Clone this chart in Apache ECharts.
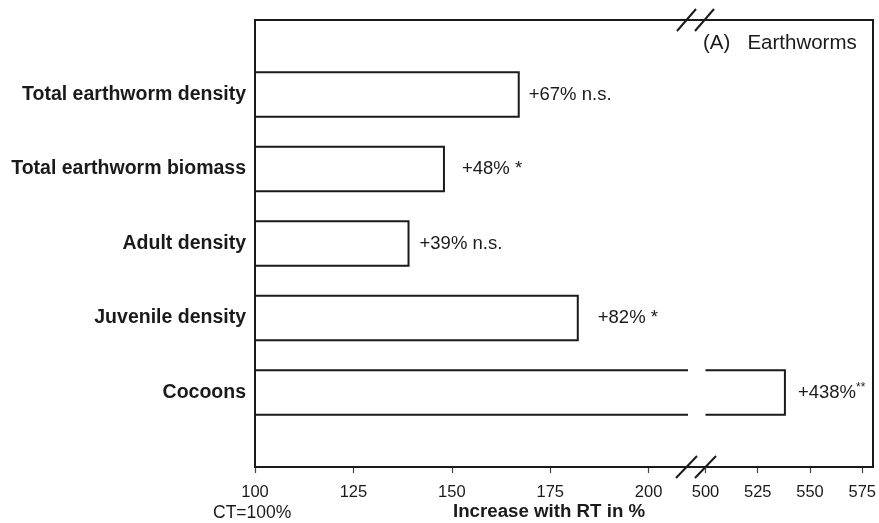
<!DOCTYPE html>
<html>
<head>
<meta charset="utf-8">
<script src="https://cdn.jsdelivr.net/npm/echarts@6/dist/echarts.min.js"></script>
<style>html,body{margin:0;padding:0;background:#fff}#c{width:879px;height:523px}</style>
</head>
<body>
<div id="c"></div>
<script>
// ---- data ----
const categories = ['Total earthworm density', 'Total earthworm biomass', 'Adult density', 'Juvenile density', 'Cocoons'];
const values = [167, 148, 139, 182, 538];          // RT in % of CT (CT = 100%)
const valueLabels = ['+67% n.s.', '+48% *', '+39% n.s.', '+82% *', '+438%{s|**}'];
const leftTicks = [100, 125, 150, 175, 200];
const rightTicks = [500, 525, 550, 575];

// ---- style / layout ----
const labelGap = [10, 18, 11, 20, 13];
const INK = '#1a1a1a';
const FONT = 'Liberation Sans, Arial, Helvetica, sans-serif';
const PLOT = { left: 255, top: 20, right: 873, bottom: 467 };
const LEFT_W = 433, RIGHT_X = 705.5;

const axisCats = [''].concat(categories, ['']);
const seriesData = values.map((v, i) => [v, i + 1, i]);

function renderBar(params, api) {
  const v = api.value(0), c = api.value(1), idx = api.value(2);
  const cs = params.coordSys;
  const xL = cs.x, xR = cs.x + cs.width;
  const pc = api.coord([v, c]);
  const pn = api.coord([v, c + 1]);
  const h = Math.abs(pn[1] - pc[1]) * 0.6;
  const top = pc[1] - h / 2, bot = pc[1] + h / 2;
  const isLeft = params.seriesIndex === 0;
  const children = [];
  const lineStyle = { stroke: INK, lineWidth: 2, fill: null };
  let endX = null;
  if (isLeft) {
    if (pc[0] > xR) {
      children.push({ type: 'polyline', shape: { points: [[xR, top], [xL, top], [xL, bot], [xR, bot]] }, style: lineStyle });
    } else {
      children.push({ type: 'polyline', shape: { points: [[xL, top], [pc[0], top], [pc[0], bot], [xL, bot]] }, style: lineStyle });
      endX = pc[0];
    }
  } else {
    if (pc[0] <= xL) return null;
    children.push({ type: 'polyline', shape: { points: [[xL, top], [pc[0], top], [pc[0], bot], [xL, bot]] }, style: lineStyle });
    endX = pc[0];
  }
  if (endX !== null) {
    children.push({
      type: 'text',
      style: {
        text: valueLabels[idx], x: endX + labelGap[idx], y: pc[1],
        align: 'left', verticalAlign: 'middle',
        font: '18.5px ' + FONT, fill: INK,
        rich: { s: { fontSize: 12, fontFamily: FONT, fill: INK, verticalAlign: 'top', lineHeight: 22 } }
      }
    });
  }
  return { type: 'group', children };
}

const chart = echarts.init(document.getElementById('c'), null, { renderer: 'canvas' });
const tickStyle = { show: true, length: 6, lineStyle: { color: '#444', width: 1.2 } };
const labelStyle = { color: INK, fontSize: 16.5, fontFamily: FONT, margin: 17 };

chart.setOption({
  animation: false,
  backgroundColor: '#fff',
  grid: [
    { left: PLOT.left, top: PLOT.top, width: LEFT_W, height: PLOT.bottom - PLOT.top },
    { left: RIGHT_X, top: PLOT.top, width: PLOT.right - RIGHT_X, height: PLOT.bottom - PLOT.top }
  ],
  xAxis: [
    { gridIndex: 0, type: 'value', min: 100, max: 210, interval: 25,
      axisLine: { show: false }, splitLine: { show: false },
      axisTick: Object.assign({ customValues: leftTicks }, tickStyle),
      axisLabel: Object.assign({ customValues: leftTicks }, labelStyle) },
    { gridIndex: 1, type: 'value', min: 500, max: 580, interval: 25,
      axisLine: { show: false }, splitLine: { show: false },
      axisTick: Object.assign({ customValues: rightTicks }, tickStyle),
      axisLabel: Object.assign({ customValues: rightTicks }, labelStyle) }
  ],
  yAxis: [
    { gridIndex: 0, type: 'category', data: axisCats, inverse: true, boundaryGap: false,
      axisLine: { show: false }, axisTick: { show: false }, splitLine: { show: false },
      axisLabel: { color: INK, fontSize: 19.5, fontWeight: 'bold', fontFamily: FONT, margin: 9, interval: 0 } },
    { gridIndex: 1, type: 'category', data: axisCats, inverse: true, boundaryGap: false, show: false }
  ],
  series: [
    { type: 'custom', xAxisIndex: 0, yAxisIndex: 0, data: seriesData, renderItem: renderBar, encode: { x: 0, y: 1 } },
    { type: 'custom', xAxisIndex: 1, yAxisIndex: 1, data: seriesData, renderItem: renderBar, encode: { x: 0, y: 1 } }
  ],
  graphic: [
    { type: 'rect', z: 10, silent: true,
      shape: { x: PLOT.left, y: PLOT.top, width: PLOT.right - PLOT.left, height: PLOT.bottom - PLOT.top },
      style: { fill: null, stroke: INK, lineWidth: 2 } },
    // break marks
    { type: 'line', z: 11, shape: { x1: 677, y1: 31, x2: 696, y2: 9 }, style: { stroke: INK, lineWidth: 2 } },
    { type: 'line', z: 11, shape: { x1: 695, y1: 31, x2: 714, y2: 9 }, style: { stroke: INK, lineWidth: 2 } },
    { type: 'line', z: 11, shape: { x1: 676, y1: 478, x2: 697, y2: 456 }, style: { stroke: INK, lineWidth: 2 } },
    { type: 'line', z: 11, shape: { x1: 695, y1: 478, x2: 716, y2: 456 }, style: { stroke: INK, lineWidth: 2 } },
    { type: 'text', z: 11, style: { text: '(A)   Earthworms', x: 703, y: 43, verticalAlign: 'middle', font: '20.5px ' + FONT, fill: INK } },
    { type: 'text', z: 11, style: { text: 'CT=100%', x: 213, y: 513, verticalAlign: 'middle', font: '17.5px ' + FONT, fill: INK } },
    { type: 'text', z: 11, style: { text: 'Increase with RT in %', x: 453, y: 512, verticalAlign: 'middle', font: 'bold 18.7px ' + FONT, fill: INK } }
  ]
});
</script>
</body>
</html>
